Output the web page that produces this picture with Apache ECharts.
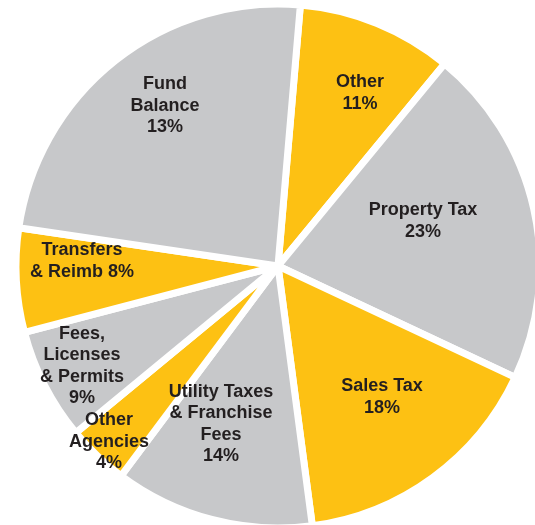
<!DOCTYPE html>
<html>
<head>
<meta charset="utf-8">
<script src="https://cdn.jsdelivr.net/npm/echarts@6/dist/echarts.min.js"></script>
<style>
  html, body { margin: 0; padding: 0; background: #fff; }
  #main { width: 535px; height: 525px; }
</style>
</head>
<body>
<div id="main"></div>
<script>
// slices, clockwise from the top
const categories = ["Other", "Property Tax", "Sales Tax", "Utility Taxes\n& Franchise\nFees",
  "Other\nAgencies", "Fees,\nLicenses\n& Permits", "Transfers\n& Reimb", "Fund\nBalance"];
const pctLabels = [11, 23, 18, 14, 4, 9, 8, 13];       // printed percentages
const sliceShares = [9.6, 21.0, 15.9, 12.3, 3.8, 6.9, 6.4, 24.0]; // wedge sizes as drawn

const YELLOW = "#fdc113";
const GREY = "#c7c8ca";
const colors = [YELLOW, GREY, YELLOW, GREY, YELLOW, GREY, YELLOW, GREY];
// label block centres
const labelPos = [[360, 93], [423, 221], [382, 397], [221, 424], [109, 442], [82, 366], [82, 261], [165, 106]];

let myChart = echarts.init(document.getElementById("main"));

let option = {
  backgroundColor: "#fff",
  animation: false,
  series: [
    {
      type: "pie",
      center: [278, 266],
      radius: [0, 262],
      startAngle: 85.1,
      clockwise: true,
      avoidLabelOverlap: false,
      itemStyle: {
        borderColor: "#fff",
        borderWidth: 7
      },
      label: {
        show: true,
        position: "inside",
        color: "#231f20",
        fontFamily: "Liberation Sans, Arial, sans-serif",
        fontWeight: "bold",
        fontSize: 18,
        lineHeight: 21.5,
        align: "center",
        formatter: function(p) {
          let sep = p.dataIndex === 6 ? " " : "\n";
          return p.name + sep + pctLabels[p.dataIndex] + "%";
        }
      },
      labelLine: { show: false },
      labelLayout: function(params) {
        let pos = labelPos[params.dataIndex];
        return { x: pos[0], y: pos[1], align: "center", verticalAlign: "middle" };
      },
      emphasis: { disabled: true },
      data: categories.map(function(name, i) {
        return { name: name, value: sliceShares[i], itemStyle: { color: colors[i] } };
      })
    }
  ]
};

myChart.setOption(option);
</script>
</body>
</html>
